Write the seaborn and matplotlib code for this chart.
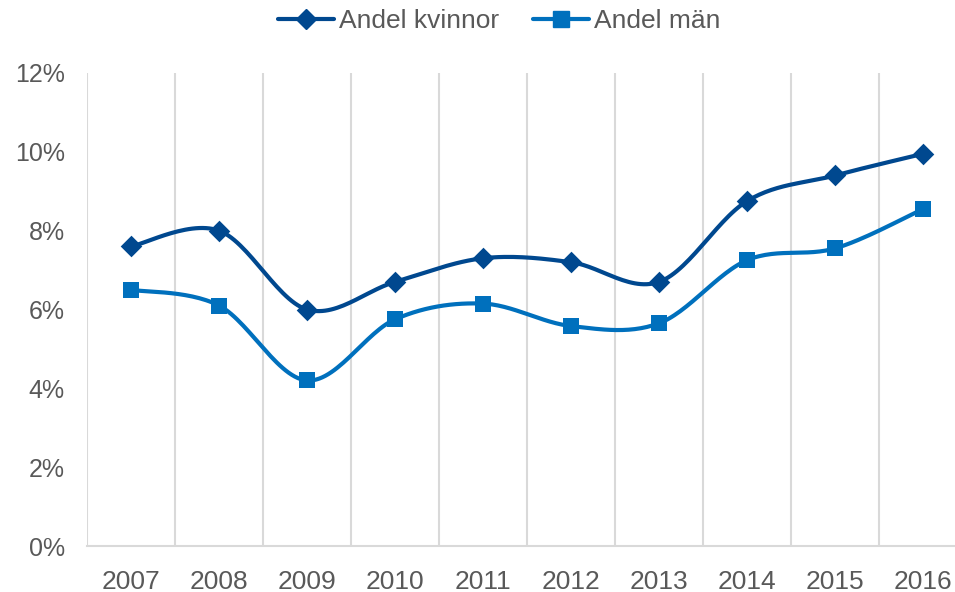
import numpy as np
import pandas as pd
import seaborn as sns
import matplotlib.pyplot as plt
from matplotlib.lines import Line2D
from matplotlib.ticker import PercentFormatter

years = ["2007", "2008", "2009", "2010", "2011", "2012", "2013", "2014", "2015", "2016"]
kvinnor = [7.6, 8.0, 6.0, 6.7, 7.3, 7.2, 6.7, 8.75, 9.4, 9.95]
man = [6.5, 6.1, 4.2, 5.75, 6.15, 5.58, 5.65, 7.25, 7.55, 8.55]

c_kv = "#00488f"
c_man = "#0070bd"
grey = "#d9d9d9"
txt = "#595959"


def smooth(y, n=30):
    # excel-like smoothed line: bezier segments with catmull-rom control points
    x = np.arange(len(y), dtype=float)
    y = np.asarray(y, dtype=float)
    px = np.concatenate([[x[0]], x, [x[-1]]])
    py = np.concatenate([[y[0]], y, [y[-1]]])
    t = np.linspace(0, 1, n)[:, None]
    xs, ys = [], []
    for i in range(1, len(px) - 2):
        p0 = np.array([px[i], py[i]])
        p3 = np.array([px[i + 1], py[i + 1]])
        p1 = p0 + (np.array([px[i + 1], py[i + 1]]) - np.array([px[i - 1], py[i - 1]])) / 6
        p2 = p3 - (np.array([px[i + 2], py[i + 2]]) - np.array([px[i], py[i]])) / 6
        b = (1 - t) ** 3 * p0 + 3 * (1 - t) ** 2 * t * p1 + 3 * (1 - t) * t ** 2 * p2 + t ** 3 * p3
        xs.extend(b[:, 0])
        ys.extend(b[:, 1])
    return np.array(xs), np.array(ys)


sns.set_style("white")
plt.rcParams["font.family"] = ["Liberation Sans", "DejaVu Sans"]

fig = plt.figure(figsize=(9.55, 5.92), dpi=100)
ax = fig.add_axes([87 / 955, 46 / 592, 880 / 955, 473 / 592])

for vals, col, mk, ms in [(kvinnor, c_kv, "D", 11), (man, c_man, "s", 12)]:
    sx, sy = smooth(vals)
    sns.lineplot(x=sx, y=sy, sort=False, color=col, linewidth=3, ax=ax, zorder=3)
    sns.scatterplot(x=np.arange(len(vals)), y=vals, marker=mk, s=ms ** 2, color=col,
                    edgecolor=col, linewidth=0, ax=ax, zorder=4)

ax.set_xlim(-0.5, len(years) - 0.5)
ax.set_ylim(0, 12)
ax.set_yticks(range(0, 13, 2))
ax.yaxis.set_major_formatter(PercentFormatter(decimals=0))
ax.set_xticks(range(len(years)))
ax.set_xticklabels(years)
for b in np.arange(-0.5, len(years), 1):
    ax.axvline(b, color=grey, linewidth=1.5, zorder=1)
for s in ["top", "right", "left"]:
    ax.spines[s].set_visible(False)
ax.spines["bottom"].set_color(grey)
ax.spines["bottom"].set_linewidth(1.5)
ax.tick_params(axis="both", length=0, labelsize=18, colors=txt)
ax.tick_params(axis="x", pad=17, labelsize=19)
ax.tick_params(axis="y", pad=16)

handles = [
    Line2D([], [], color=c_kv, linewidth=3, marker="D", markersize=10, label="Andel kvinnor"),
    Line2D([], [], color=c_man, linewidth=3, marker="s", markersize=11, label="Andel män"),
]
fig.legend(handles=handles, loc="upper center", bbox_to_anchor=(0.523, 1.025), ncol=2,
           frameon=False, fontsize=19, labelcolor=txt, handlelength=2.1,
           handletextpad=0.2, columnspacing=1.3)

fig.savefig("out.png", dpi=100)
